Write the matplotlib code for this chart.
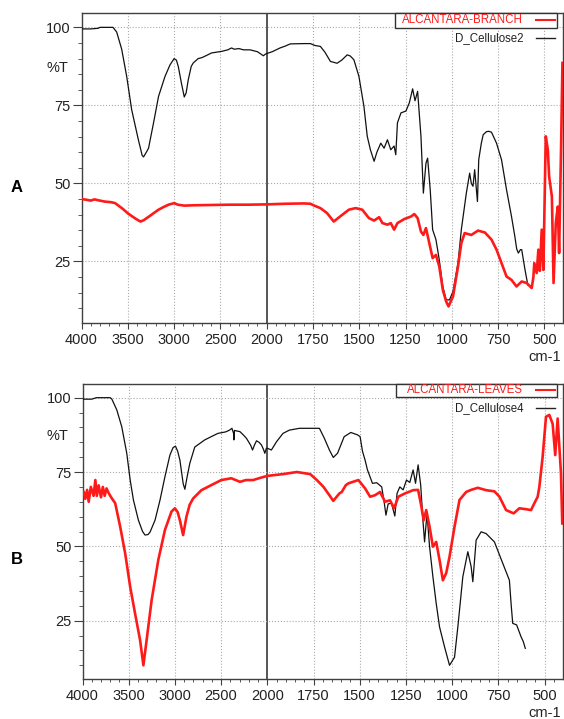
"""FTIR spectra: Alcantara branch / leaves vs. cellulose references."""

import matplotlib

matplotlib.use("Agg")
import matplotlib.pyplot as plt
import numpy as np
from matplotlib.patches import Rectangle
from matplotlib.ticker import FixedLocator, NullFormatter

plt.rcParams["font.family"] = ["Liberation Sans", "DejaVu Sans"]

# ---- data (wavenumber cm-1, %T) ----
cell2_wn = [4000, 3900, 3820, 3800, 3700, 3660, 3620, 3566, 3512, 3458, 3386, 3345, 3330,
            3300, 3276, 3222, 3168, 3098, 3044, 3000, 2975, 2955, 2920, 2890, 2870, 2847,
            2815, 2793, 2740, 2700, 2650, 2596, 2488, 2420, 2380, 2350, 2300, 2250, 2180,
            2100, 2036, 2015, 2000, 1970, 1928, 1900, 1873, 1800, 1764, 1740, 1710, 1685,
            1656, 1620, 1595, 1565, 1548, 1529, 1502, 1475, 1457, 1440, 1420, 1405, 1384,
            1366, 1348, 1330, 1312, 1303, 1294, 1275, 1248, 1230, 1212, 1199, 1185, 1167,
            1154, 1140, 1131, 1117, 1104, 1086, 1068, 1049, 1031, 1013, 994, 967, 949, 922,
            904, 895, 886, 877, 862, 855, 841, 831, 813, 800, 786, 759, 732, 705, 678, 660,
            650, 641, 630, 623, 605, 590]
cell2_t = [99.5, 99.5, 99.7, 100, 100, 100, 98.5, 93, 84.3, 73.6, 64, 59, 58.5,
           60, 61.3, 69.4, 77.9, 84.3, 88, 90, 89.5, 87.5, 82, 77.7, 79, 83.2,
           87.5, 88.6, 90, 90.3, 91, 91.8, 92.3, 92.8, 93.4, 93, 93.2, 92.8, 92.8,
           92.2, 90.9, 91.4, 91.6, 92.2, 93.4, 94, 94.7, 94.8, 94.8, 94.2, 93.9, 92,
           89.1, 88.5, 89.5, 91.2, 90.8, 89.6, 84.3, 74.7, 65.1, 60.8, 57.1, 60, 62.9,
           61.3, 64, 60.8, 62, 59.2, 69.4, 72.6, 73.2, 75.8, 80.3, 76.5, 79.5, 65.1,
           46.9, 56.5, 58.1, 48, 35.2, 32, 25.5, 17, 12.7, 12.7, 15.4, 24.5, 35.2, 46.9,
           53.3, 50, 49.1, 54.4, 44.2, 57.6, 62.9, 65.6, 66.6, 66.7, 66.4, 62.9, 57.6, 48,
           39.4, 33, 29, 27.7, 28.8, 28.8, 22.3, 17.5]

branch_wn = [4000, 3950, 3900, 3860, 3817, 3750, 3680, 3637, 3560, 3494, 3420, 3364, 3330,
             3276, 3220, 3168, 3110, 3060, 2998, 2960, 2890, 2800, 2600, 2400, 2200, 2000,
             1900, 1800, 1764, 1747, 1710, 1674, 1638, 1602, 1556, 1520, 1484, 1448, 1420,
             1393, 1375, 1348, 1330, 1312, 1294, 1257, 1221, 1203, 1185, 1167, 1154, 1140,
             1122, 1104, 1086, 1068, 1049, 1031, 1018, 994, 967, 949, 931, 895, 859, 822,
             786, 759, 732, 705, 678, 651, 623, 596, 569, 560, 555, 542, 533, 525, 515, 506,
             493, 482, 475, 460, 451, 439, 428, 421, 410, 403]
branch_t = [45, 44.8, 44.5, 44.9, 44.6, 44.2, 44, 43.7, 42, 40.3, 38.8, 37.8, 38.2,
            39.3, 40.5, 41.6, 42.5, 43.2, 43.7, 43.2, 42.9, 43, 43.1, 43.2, 43.2, 43.3,
            43.5, 43.6, 43.5, 43, 42.1, 40.5, 37.8, 39.5, 41.6, 42.1, 41.6, 38.9, 38.1,
            39.2, 37.3, 36.8, 37.3, 35.2, 37.3, 38.6, 39.4, 40.2, 38.9, 34.6, 33.5, 35.7,
            30.9, 26.1, 27.1, 23.4, 15.9, 12.2, 10.6, 13.8, 23.4, 30.9, 34.1, 33.5, 34.9, 34.3,
            32, 28.8, 24.5, 20.2, 19.1, 17, 18.6, 18.1, 16.5, 20, 24.5, 21.3, 28.8, 22, 35.2, 22.3,
            65.1, 60.8, 52.3, 45.8, 18.1, 37.3, 42.6, 27.7, 62.9, 88.6]

cell4_wn = [4000, 3900, 3850, 3700, 3682, 3629, 3575, 3521, 3484, 3449, 3395, 3350, 3323,
            3290, 3269, 3215, 3161, 3108, 3054, 3020, 2994, 2970, 2946, 2910, 2892, 2870,
            2839, 2785, 2677, 2600, 2534, 2450, 2408, 2383, 2365, 2362, 2355, 2330, 2297,
            2260, 2225, 2180, 2160, 2140, 2117, 2090, 2063, 2040, 2027, 2010, 2000, 1978,
            1950, 1915, 1880, 1826, 1750, 1718, 1691, 1664, 1643, 1620, 1584, 1548, 1512,
            1498, 1485, 1471, 1458, 1431, 1408, 1381, 1368, 1358, 1346, 1328, 1310, 1298,
            1283, 1265, 1247, 1229, 1211, 1198, 1184, 1170, 1158, 1149, 1136, 1122, 1104,
            1086, 1068, 1041, 1014, 987, 969, 942, 915, 897, 888, 870, 843, 816, 771, 726,
            690, 680, 672, 651, 627, 615, 604]
cell4_t = [99.5, 99.5, 100, 100, 99.5, 95.9, 90.2, 81.3, 72.3, 65.6, 58.8, 55, 53.8,
           54, 54.8, 58.8, 65.6, 73.4, 80.7, 83.2, 83.7, 82, 79, 71, 69.2, 73,
           77.9, 83.4, 85.8, 87, 88, 88.5, 89.1, 89.7, 88, 85.8, 89, 88.8, 88.6,
           87.5, 86.3, 84, 82.4, 84, 85.5, 85, 84.1, 82.5, 81.3, 83, 83, 82.4,
           85.2, 88, 89.1, 89.7, 89.7, 89.7, 86.3, 82.4, 79.9, 81.3, 86.9, 88.3, 87.5,
           86.9, 82, 79, 75.7, 71.2, 71.4, 70, 65, 60.5, 64.3, 64.5, 60.2, 67.8,
           70, 69, 72.3, 71.5, 75.7, 71.2, 77.4, 70.6, 58.8, 51.5, 61.1, 49.9, 39.8,
           30.8, 22.9, 16.2, 10, 12.7, 22.9, 39.8, 48.2, 43.2, 38.1, 52.1, 54.9, 54.3, 51.5, 44.3,
           38.6, 30, 24.1, 23.6, 19.6, 18, 15.7]

leaves_wn = [4000, 3987, 3970, 3950, 3933, 3910, 3880, 3861, 3845, 3825, 3800, 3780, 3760,
             3740, 3718, 3690, 3646, 3592, 3538, 3484, 3431, 3377, 3341, 3306, 3252, 3180,
             3108, 3037, 3000, 2970, 2946, 2911, 2875, 2840, 2803, 2713, 2606, 2498, 2390,
             2318, 2297, 2230, 2153, 2080, 2000, 1915, 1862, 1840, 1768, 1732, 1696, 1664,
             1643, 1610, 1597, 1575, 1561, 1507, 1471, 1444, 1417, 1390, 1363, 1336, 1314,
             1291, 1255, 1211, 1184, 1166, 1154, 1140, 1122, 1104, 1086, 1068, 1050, 1032,
             1014, 987, 960, 924, 897, 861, 816, 771, 744, 708, 667, 636, 600, 573, 555, 537,
             528, 510, 492, 474, 456, 442, 429, 411, 404]
leaves_t = [68, 68.4, 66, 69, 65, 70, 67, 72.3, 67, 70.5, 66.5, 70, 67,
            69.5, 68, 66.5, 64.5, 56.6, 47.6, 36.4, 27.4, 18.5, 10, 18.5, 31.9, 45.4,
            55.5, 61.7, 62.8, 61.5, 58.8, 53.8, 60, 64, 66.1, 68.9, 70.6, 72.3, 72.9,
            72, 71.7, 72.3, 72.3, 73, 73.7, 74.3, 74.8, 75, 74.3, 72.3, 70, 67.2,
            65.3, 67.8, 68.3, 70.6, 71.2, 72.3, 69.5, 66.7, 67.2, 68.3, 65, 65.5, 62.8,
            66.7, 67.8, 68.9, 69, 63.3, 58.8, 62.2, 56.6, 49.9, 51.5, 45.4, 38.6, 41,
            46.5, 56.6, 65.6, 68.3, 69, 69.7, 68.9, 68.5, 66.7, 62.2, 61.1, 62.8, 62.5, 62.2, 64.5, 66.7,
            70, 80.2, 93.6, 94.2, 91.2, 80.7, 93, 74.6, 57.7]

x_major = [4000, 3500, 3000, 2500, 2000, 1750, 1500, 1250, 1000, 750, 500]
y_major = [25, 50, 75, 100]


def fwd(x):
    # spectrometer x-axis: scale doubles below 2000 cm-1
    x = np.asarray(x, dtype=float)
    return np.where(x >= 2000, x, 2 * x - 2000)


def inv(u):
    u = np.asarray(u, dtype=float)
    return np.where(u >= 2000, u, (u + 2000) / 2)


def draw_panel(ax, sample_wn, sample_t, ref_wn, ref_t, sample_name, ref_name, box_h):
    ax.set_xscale("function", functions=(fwd, inv))
    ax.set_xlim(4000, 400)
    ax.set_ylim(5.3, 104.6)

    ax.xaxis.set_major_locator(FixedLocator(x_major))
    minors = list(range(3900, 2000, -100)) + list(range(1950, 400, -50))
    ax.xaxis.set_minor_locator(FixedLocator(minors))
    ax.xaxis.set_minor_formatter(NullFormatter())
    ax.yaxis.set_major_locator(FixedLocator(y_major))
    ax.yaxis.set_minor_locator(FixedLocator(list(range(10, 105, 5))))
    ax.yaxis.set_minor_formatter(NullFormatter())

    ax.tick_params(axis="both", which="both", direction="out", colors="#404040",
                   labelcolor="#222222", labelsize=10.5, top=False, right=False)
    ax.tick_params(axis="y", which="major", length=6.5, pad=1.5)
    ax.tick_params(axis="y", which="minor", length=3)
    ax.tick_params(axis="x", which="major", length=4, pad=3)
    ax.tick_params(axis="x", which="minor", length=2.5)

    for sp in ax.spines.values():
        sp.set_color("#404040")
        sp.set_linewidth(1.0)

    for x in x_major[1:]:
        if x == 2000:
            ax.axvline(x, color="#555555", lw=1.4, zorder=1)
        else:
            ax.axvline(x, color="#aaaaaa", lw=0.8, ls=":", zorder=1)
    for y in y_major:
        ax.axhline(y, color="#aaaaaa", lw=0.8, ls=":", zorder=1)

    ax.plot(ref_wn, ref_t, color="#111111", lw=0.9, zorder=3)
    ax.plot(sample_wn, sample_t, color="#ff1a1a", lw=1.9, zorder=4)

    # legend drawn by hand, like the instrument software
    ax.add_patch(Rectangle((0.652, 1 - box_h), 0.335, box_h, transform=ax.transAxes,
                           facecolor="white", edgecolor="#333333", lw=1.0, zorder=5,
                           clip_on=False))
    ax.text(0.916, 1 - box_h / 2, sample_name, transform=ax.transAxes, ha="right",
            va="center", color="#ff1a1a", fontsize=8.3, zorder=6)
    ax.plot([0.943, 0.983], [1 - box_h / 2] * 2, transform=ax.transAxes, color="#ff1a1a",
            lw=1.5, zorder=6)
    ax.text(0.919, 0.918, ref_name, transform=ax.transAxes, ha="right", va="center",
            color="#222222", fontsize=8.3, zorder=6)
    ax.plot([0.943, 0.983], [0.918] * 2, transform=ax.transAxes, color="#222222",
            lw=1.0, zorder=6)


fig = plt.figure(figsize=(5.64, 7.19), dpi=100)
ax_a = fig.add_axes([81.5 / 564, 1 - 323 / 719, 481.5 / 564, 310 / 719])
ax_b = fig.add_axes([82.5 / 564, 1 - 679.3 / 719, 480.5 / 564, 295.3 / 719])

draw_panel(ax_a, branch_wn, branch_t, cell2_wn, cell2_t,
           "ALCANTARA-BRANCH", "D_Cellulose2", 0.048)
draw_panel(ax_b, leaves_wn, leaves_t, cell4_wn, cell4_t,
           "ALCANTARA-LEAVES", "D_Cellulose4", 0.044)

fig.text(57 / 564, 1 - 68 / 719, "%T", ha="center", va="center", fontsize=10.5, color="#222222")
fig.text(57 / 564, 1 - 436 / 719, "%T", ha="center", va="center", fontsize=10.5, color="#222222")
fig.text(561 / 564, 1 - 357 / 719, "cm-1", ha="right", va="center", fontsize=10.5, color="#222222")
fig.text(561 / 564, 1 - 713 / 719, "cm-1", ha="right", va="center", fontsize=10.5, color="#222222")
fig.text(17 / 564, 1 - 187 / 719, "A", ha="center", va="center", fontsize=12, fontweight="bold")
fig.text(17 / 564, 1 - 560 / 719, "B", ha="center", va="center", fontsize=12, fontweight="bold")

fig.savefig("out.png", dpi=100)
